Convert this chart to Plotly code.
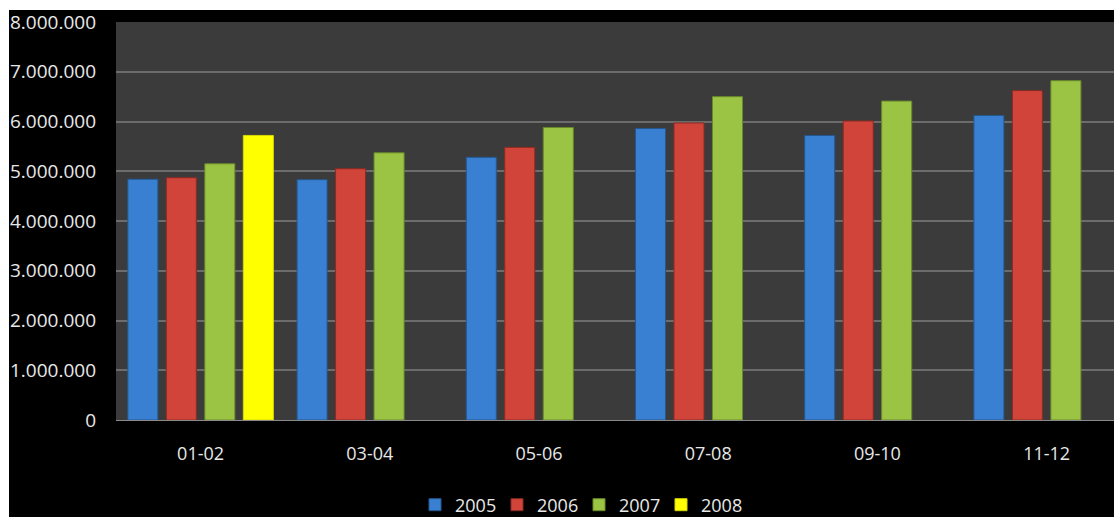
import plotly.graph_objects as go

categories = ["01-02", "03-04", "05-06", "07-08", "09-10", "11-12"]
years = ["2005", "2006", "2007", "2008"]
v2005 = [4840000, 4830000, 5280000, 5860000, 5720000, 6120000]
v2006 = [4870000, 5050000, 5480000, 5970000, 6010000, 6620000]
v2007 = [5150000, 5370000, 5880000, 6500000, 6410000, 6820000]
v2008 = [5720000, None, None, None, None, None]
tick_vals = [0, 1000000, 2000000, 3000000, 4000000, 5000000, 6000000, 7000000, 8000000]
tick_text = ["0", "1.000.000", "2.000.000", "3.000.000", "4.000.000",
             "5.000.000", "6.000.000", "7.000.000", "8.000.000"]

series = [v2005, v2006, v2007, v2008]
fills = ["#3a80d2", "#d0443a", "#9cc444", "#ffff00"]
edges = ["#24578f", "#8e2a22", "#6a8a2a", "#d8d800"]

W, H = 1114, 517
ML, MR, MT, MB = 116, 0, 22, 97
FONT = "Open Sans"

fig = go.Figure()
for name, vals, fc, ec in zip(years, series, fills, edges):
    fig.add_trace(go.Bar(
        x=categories, y=vals, name=name,
        marker=dict(color=fc, line=dict(color=ec, width=1)),
    ))

plot_h = H - MT - MB
plot_w = W - ML - MR

def px_to_paper_x(px):
    return (px - ML) / plot_w

def px_to_paper_y(py):
    return (H - MB - py) / plot_h

fig.update_layout(
    width=W, height=H,
    margin=dict(l=ML, r=MR, t=MT, b=MB, pad=0, autoexpand=False),
    paper_bgcolor="#000000",
    plot_bgcolor="#3b3b3b",
    barmode="group",
    bargap=0.09,
    bargroupgap=0.22,
    font=dict(family=FONT, size=18, color="#e8e8e8"),
    showlegend=True,
    legend=dict(
        orientation="h",
        x=px_to_paper_x(415), xanchor="left",
        y=px_to_paper_y(505), yanchor="middle",
        font=dict(family=FONT, size=18, color="#e8e8e8"),
        bgcolor="rgba(0,0,0,0)",
        itemwidth=30,
        entrywidth=37, entrywidthmode="pixels",
        traceorder="normal",
    ),
    xaxis=dict(
        type="category",
        range=[-0.5, 5.398],
        showgrid=False,
        showline=True, linecolor="#8a8a8a", linewidth=1,
        ticks="", ticklabelstandoff=17,
        tickfont=dict(family=FONT, size=18, color="#e8e8e8"),
        zeroline=False,
        fixedrange=True,
    ),
    yaxis=dict(
        range=[0, 8000000],
        tickvals=tick_vals, ticktext=tick_text,
        showgrid=True, gridcolor="#6c6c6c", gridwidth=2,
        zeroline=False,
        showline=False,
        ticks="", ticklabelstandoff=19,
        tickfont=dict(family=FONT, size=19, color="#e8e8e8"),
        fixedrange=True,
    ),
    shapes=[
        dict(type="rect", xref="paper", yref="paper",
             x0=px_to_paper_x(0), x1=px_to_paper_x(W + 5),
             y0=px_to_paper_y(10), y1=px_to_paper_y(-5),
             fillcolor="#ffffff", line=dict(width=0), layer="above"),
        dict(type="rect", xref="paper", yref="paper",
             x0=px_to_paper_x(-5), x1=px_to_paper_x(9),
             y0=px_to_paper_y(H + 5), y1=px_to_paper_y(-5),
             fillcolor="#ffffff", line=dict(width=0), layer="above"),
    ],
)

fig.write_html("out.html")
